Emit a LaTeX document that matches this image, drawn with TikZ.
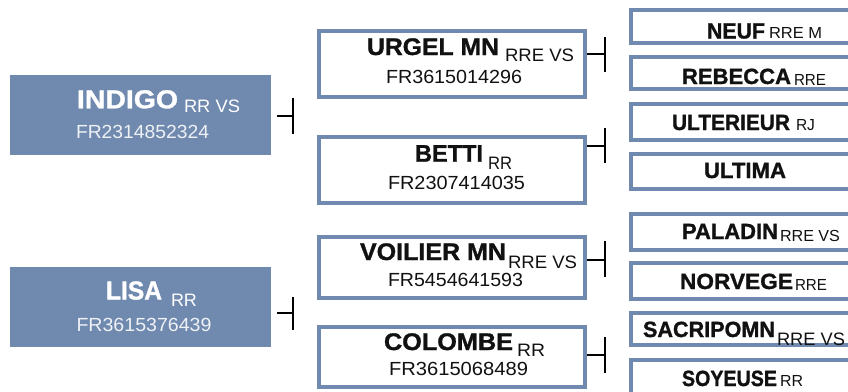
\documentclass[tikz,border=0pt]{standalone}
\usepackage{fontspec}
\setmainfont{Liberation Sans}[BoldFeatures={FakeBold=1.2}]
\usepackage{graphicx}
\definecolor{steel}{HTML}{7089AE}
\definecolor{ink}{HTML}{111111}
\definecolor{pale}{HTML}{EEF1F5}
\newcommand{\fw}[2]{\resizebox{#1pt}{\height}{#2}}
\begin{document}
\begin{tikzpicture}[x=1pt,y=-1pt,
  txt/.style={inner sep=0pt, outer sep=0pt, anchor=base west},
  lnm/.style={txt, text=white, font=\fontsize{26}{26}\selectfont\bfseries},
  lsb/.style={txt, text=white, font=\fontsize{18}{18}\selectfont},
  lfr/.style={txt, text=pale, font=\fontsize{19}{19}\selectfont},
  mnm/.style={txt, text=ink, font=\fontsize{24}{24}\selectfont\bfseries},
  msb/.style={txt, text=ink, font=\fontsize{18}{18}\selectfont},
  mfr/.style={txt, text=ink, font=\fontsize{19}{19}\selectfont},
  rnm/.style={txt, text=ink, font=\fontsize{22}{22}\selectfont\bfseries},
  rsb/.style={txt, text=ink, font=\fontsize{16}{16}\selectfont},
  fbox/.style={fill=steel, draw=none, inner sep=0pt, outer sep=0pt, minimum width=261pt, minimum height=80pt},
  wbox/.style={draw=steel, fill=white, line width=4pt, inner sep=0pt},
  mbox/.style={wbox, minimum width=266pt},
  rbox/.style={wbox, minimum width=236pt},
  conn/.style={draw=black, line width=1.3pt}
]
\useasboundingbox (0,0) rectangle (848,391);
\clip (0,0) rectangle (848,391);

% left boxes
\node[fbox] (indigo) at (140.5,115) {};
\node[fbox] (lisa) at (140.5,307) {};
\node[lnm] (indigoN) at (77,108.3) {\fw{101}{INDIGO}};
\node[lsb] (indigoS) at (184,112.5) {\fw{56}{RR VS}};
\node[lfr] (indigoF) at (76,138.3) {\fw{133}{FR2314852324}};
\node[lnm] (lisaN) at (106,299.5) {\fw{56}{LISA}};
\node[lsb] (lisaS) at (171,306.7) {\fw{26}{RR}};
\node[lfr] (lisaF) at (76.5,331.7) {\fw{135}{FR3615376439}};

% middle boxes
\node[mbox, minimum height=66pt] (urgel) at (452,64) {};
\node[mbox, minimum height=66pt] (betti) at (452,170) {};
\node[mbox, minimum height=61pt] (voilier) at (452,267.5) {};
\node[mbox, minimum height=60pt] (colombe) at (452,357) {};
\node[mnm] (urgelN) at (367,55) {\fw{132}{URGEL MN}};
\node[msb] (urgelS) at (505,61) {\fw{69}{RRE VS}};
\node[mfr] (urgelF) at (386,83.3) {\fw{136}{FR3615014296}};
\node[mnm] (bettiN) at (415,161.7) {\fw{68}{BETTI}};
\node[msb] (bettiS) at (488,169.3) {\fw{24}{RR}};
\node[mfr] (bettiF) at (388,189) {\fw{137}{FR2307414035}};
\node[mnm] (voilierN) at (360,260) {\fw{146}{VOILIER MN}};
\node[msb] (voilierS) at (508,268.3) {\fw{69}{RRE VS}};
\node[mfr] (voilierF) at (388,286.7) {\fw{135}{FR5454641593}};
\node[mnm] (colombeN) at (384,350) {\fw{129}{COLOMBE}};
\node[msb] (colombeS) at (517,356.7) {\fw{28}{RR}};
\node[mfr] (colombeF) at (389,375) {\fw{139}{FR3615068489}};

% right boxes
\node[rbox, minimum height=33pt] (neuf) at (749,26.5) {};
\node[rbox, minimum height=32pt] (rebecca) at (749,73) {};
\node[rbox, minimum height=36pt] (ulterieur) at (749,122) {};
\node[rbox, minimum height=35pt] (ultima) at (749,171.5) {};
\node[rbox, minimum height=36pt] (paladin) at (749,232) {};
\node[rbox, minimum height=36pt] (norvege) at (749,281) {};
\node[rbox, minimum height=32pt] (sacripomn) at (749,329) {};
\node[rbox, minimum height=38pt] (soyeuse) at (749,379) {};
\node[rnm] (neufN) at (707,38.5) {\fw{58}{NEUF}};
\node[rsb] (neufS) at (769,38.5) {\fw{53}{RRE M}};
\node[rnm] (rebeccaN) at (682,84) {\fw{109}{REBECCA}};
\node[rsb] (rebeccaS) at (794,85) {\fw{32}{RRE}};
\node[rnm] (ulterieurN) at (672,130) {\fw{118}{ULTERIEUR}};
\node[rsb] (ulterieurS) at (796,130) {\fw{19}{RJ}};
\node[rnm] (ultimaN) at (704,178) {\fw{82}{ULTIMA}};
\node[rnm] (paladinN) at (682,239) {\fw{96}{PALADIN}};
\node[rsb] (paladinS) at (780,241) {\fw{60}{RRE VS}};
\node[rnm] (norvegeN) at (680,289) {\fw{113}{NORVEGE}};
\node[rsb] (norvegeS) at (795,290.5) {\fw{32}{RRE}};
\node[rnm] (sacripomnN) at (643,337) {\fw{132}{SACRIPOMN}};
\node[msb] (sacripomnS) at (777,345) {\fw{68}{RRE VS}};
\node[rnm] (soyeuseN) at (682,386) {\fw{95}{SOYEUSE}};
\node[rsb] (soyeuseS) at (780,386) {\fw{23}{RR}};

% connectors
\coordinate (indigoJ) at (293,116);
\coordinate (indigoT) at (293,98);
\coordinate (indigoB) at (293,134);
\draw[conn] (indigoJ -| indigo.east) ++(6,0) -- (indigoJ);
\draw[conn] (indigoT) -- (indigoB);

\coordinate (lisaJ) at (293,313);
\coordinate (lisaT) at (293,297);
\coordinate (lisaB) at (293,330);
\draw[conn] (lisaJ -| lisa.east) ++(6,0) -- (lisaJ);
\draw[conn] (lisaT) -- (lisaB);

\coordinate (urgelJ) at (605,54);
\coordinate (urgelT) at (605,37);
\coordinate (urgelB) at (605,72);
\draw[conn] (urgelJ -| urgel.east) -- (urgelJ);
\draw[conn] (urgelT) -- (urgelB);

\coordinate (bettiJ) at (605,146);
\coordinate (bettiT) at (605,128);
\coordinate (bettiB) at (605,163);
\draw[conn] (bettiJ -| betti.east) -- (bettiJ);
\draw[conn] (bettiT) -- (bettiB);

\coordinate (voilierJ) at (605,260);
\coordinate (voilierT) at (605,241);
\coordinate (voilierB) at (605,277);
\draw[conn] (voilierJ -| voilier.east) -- (voilierJ);
\draw[conn] (voilierT) -- (voilierB);

\coordinate (colombeJ) at (605,355);
\coordinate (colombeT) at (605,337);
\coordinate (colombeB) at (605,373);
\draw[conn] (colombeJ -| colombe.east) -- (colombeJ);
\draw[conn] (colombeT) -- (colombeB);
\end{tikzpicture}
\end{document}
